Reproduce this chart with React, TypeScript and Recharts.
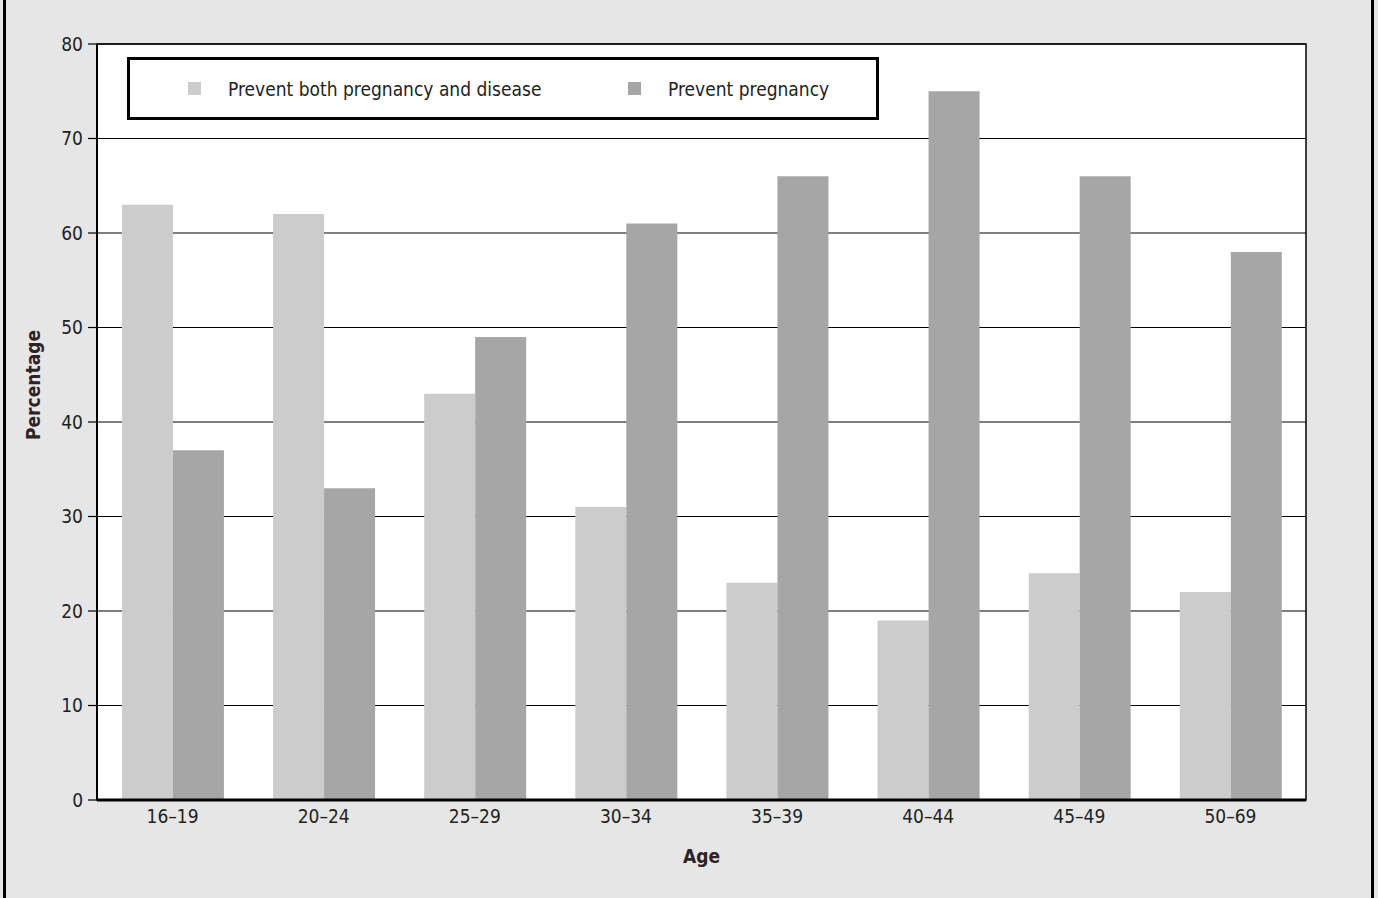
import React from 'react';
import {
  BarChart,
  Bar,
  XAxis,
  YAxis,
  CartesianGrid,
  Legend,
  ReferenceArea,
} from 'recharts';

const ageGroups = ['16–19', '20–24', '25–29', '30–34', '35–39', '40–44', '45–49', '50–69'];
const bothValues = [63, 62, 43, 31, 23, 19, 24, 22];
const pregnancyValues = [37, 33, 49, 61, 66, 75, 66, 58];
const yTicks = [0, 10, 20, 30, 40, 50, 60, 70, 80];

const BOTH_LABEL = 'Prevent both pregnancy and disease';
const PREG_LABEL = 'Prevent pregnancy';

const data = ageGroups.map((age, i) => ({
  age,
  [BOTH_LABEL]: bothValues[i],
  [PREG_LABEL]: pregnancyValues[i],
}));

const FONT = '"DejaVu Sans Condensed", "Liberation Sans Narrow", "Roboto", sans-serif';
const TEXT = '#231f20';

function LegendBox() {
  const item = (left: number, color: string, label: string) => (
    <div style={{ position: 'absolute', left, top: 0, height: '100%', display: 'flex', alignItems: 'center' }}>
      <span style={{ display: 'inline-block', width: 13, height: 13, background: color, marginRight: 27 }} />
      <span style={{ fontSize: 19, color: TEXT, fontFamily: FONT }}>{label}</span>
    </div>
  );
  return (
    <div style={{ position: 'relative', width: '100%', height: '100%' }}>
      {item(58, '#cccccc', BOTH_LABEL)}
      {item(498, '#a6a6a6', PREG_LABEL)}
    </div>
  );
}

// y-axis title sits a bit above the plot's middle in the original
function YTitle(props: any) {
  const vb = props.viewBox || {};
  const x = vb.x + 33;
  const y = vb.y + vb.height / 2 - 37;
  return (
    <text
      x={x}
      y={y}
      transform={`rotate(-90, ${x}, ${y})`}
      textAnchor="middle"
      dominantBaseline="central"
      style={{ fontSize: 19, fontWeight: 'bold', fill: '#2d2226', fontFamily: FONT }}
    >
      Percentage
    </text>
  );
}

export default function App() {
  return (
    <div
      style={{
        position: 'absolute',
        left: 0,
        top: 0,
        width: 1378,
        height: 898,
        background: '#e6e6e6',
        fontFamily: FONT,
      }}
    >
      <div style={{ position: 'absolute', left: 3, top: 0, width: 3, height: 898, background: '#000' }} />
      <div style={{ position: 'absolute', left: 1371, top: 0, width: 3, height: 898, background: '#000' }} />
      <div style={{ position: 'absolute', left: 0, top: 0 }}>
        <BarChart
          width={1378}
          height={898}
          data={data}
          margin={{ top: 44, right: 72, bottom: 32, left: 0 }}
          barCategoryGap="16.5%"
          barGap={0}
        >
          <CartesianGrid vertical={false} stroke="#000" strokeWidth={1.2} fill="#fff" />
          <ReferenceArea y1={0} y2={80} fill="none" stroke="#000" strokeWidth={1.5} ifOverflow="visible" />
          <XAxis
            dataKey="age"
            height={66}
            tickLine={false}
            tickSize={0}
            tickMargin={10}
            axisLine={{ stroke: '#000', strokeWidth: 3 }}
            tick={{ fontSize: 19, fill: TEXT, fontFamily: FONT }}
            label={{
              value: 'Age',
              position: 'insideBottom',
              offset: 3,
              style: { fontSize: 19, fontWeight: 'bold', fill: '#2d2226', fontFamily: FONT },
            }}
          />
          <YAxis
            width={97}
            domain={[0, 80]}
            ticks={yTicks}
            interval={0}
            tickSize={9}
            tickMargin={5}
            tickLine={{ stroke: '#000', strokeWidth: 1.2 }}
            axisLine={{ stroke: '#000', strokeWidth: 2 }}
            tick={{ fontSize: 19, fill: TEXT, fontFamily: FONT }}
            label={<YTitle />}
          />
          <Legend
            layout="horizontal"
            verticalAlign="middle"
            align="center"
            content={<LegendBox />}
            wrapperStyle={{
              position: 'absolute',
              left: 127,
              top: 57,
              width: 752,
              height: 63,
              border: '3px solid #000',
              boxSizing: 'border-box',
              background: '#fff',
            }}
          />
          <Bar dataKey={BOTH_LABEL} fill="#cccccc" isAnimationActive={false} />
          <Bar dataKey={PREG_LABEL} fill="#a6a6a6" isAnimationActive={false} />
        </BarChart>
      </div>
    </div>
  );
}
